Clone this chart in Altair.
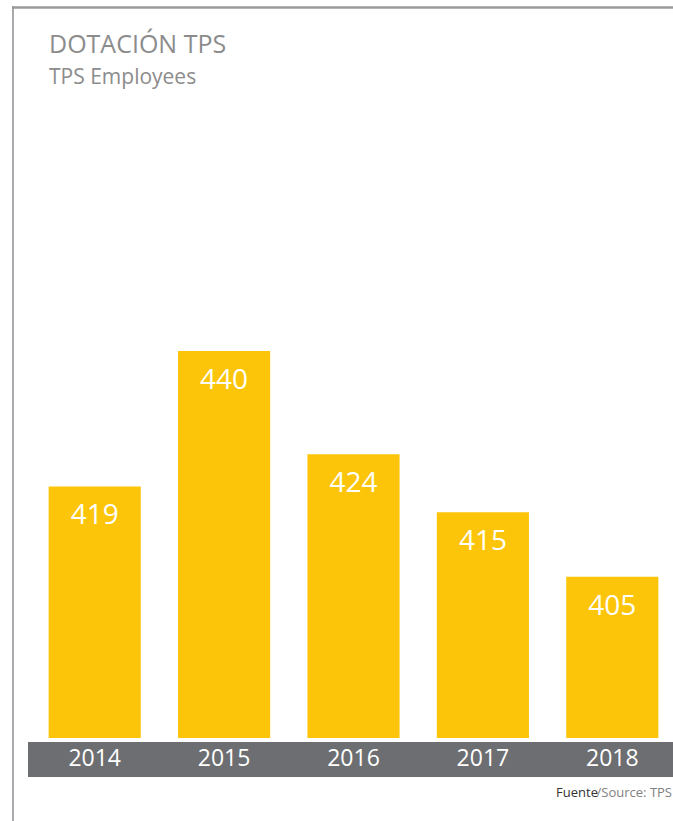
import altair as alt
import pandas as pd

years = ["2014", "2015", "2016", "2017", "2018"]
employees = [419, 440, 424, 415, 405]

title_main = "DOTACIÓN TPS"
title_sub = "TPS Employees"
source_dark = "Fuente"
source_light = "/Source: TPS"

BASE = 380

df = pd.DataFrame({"year": years, "value": employees})
one = pd.DataFrame({"k": [0]})

xscale = alt.Scale(domain=years, range=[30, 677], paddingInner=0.288, paddingOuter=0.144)
yscale = alt.Scale(domain=[BASE, 494.4], zero=False, nice=False)

base = alt.Chart(df)

bars = base.mark_bar(color="#FCC50A").encode(
    x=alt.X("year:N", scale=xscale, axis=None, sort=years),
    y=alt.Y("value:Q", scale=yscale, axis=None),
    y2=alt.datum(BASE),
)

bar_labels = base.mark_text(
    color="white", font="Open Sans", fontSize=28, baseline="middle", dy=30
).encode(
    x=alt.X("year:N", scale=xscale, axis=None, sort=years),
    y=alt.Y("value:Q", scale=yscale, axis=None),
    text=alt.Text("value:Q"),
)

band = alt.Chart(one).mark_rect(color="#6D6E71").encode(
    x=alt.value(28), x2=alt.value(673), y=alt.value(742), y2=alt.value(777)
)

year_labels = base.mark_text(
    color="white", font="Open Sans", fontSize=23, baseline="middle"
).encode(
    x=alt.X("year:N", scale=xscale, axis=None, sort=years),
    y=alt.value(759),
    text="year:N",
)

left_border = alt.Chart(one).mark_rule(color="#A9A9AE", strokeWidth=2).encode(
    x=alt.value(13), y=alt.value(6), y2=alt.value(821)
)
top_border = alt.Chart(one).mark_rule(color="#9B9B9B", strokeWidth=2.5).encode(
    x=alt.value(12), x2=alt.value(673), y=alt.value(7.5)
)

t1 = alt.Chart(one).mark_text(
    text=title_main, font="Open Sans", fontSize=25, color="#8C8C8C",
    align="left", baseline="alphabetic"
).encode(x=alt.value(49), y=alt.value(53))

t2 = alt.Chart(one).mark_text(
    text=title_sub, font="Open Sans", fontSize=21, color="#8C8C8C",
    align="left", baseline="alphabetic"
).encode(x=alt.value(49), y=alt.value(84))

s1 = alt.Chart(one).mark_text(
    text=source_light, font="Open Sans", fontSize=13,
    color="#808080", align="right", baseline="alphabetic"
).encode(x=alt.value(672), y=alt.value(797))

s2 = alt.Chart(one).mark_text(
    text=source_dark, font="Open Sans", fontSize=13,
    color="#333333", align="right", baseline="alphabetic"
).encode(x=alt.value(598), y=alt.value(797))

chart = alt.layer(
    left_border, top_border, t1, t2, bars, bar_labels, band, year_labels, s1, s2
).properties(
    width=673, height=738,
    autosize=alt.AutoSizeParams(type="none"),
    padding={"left": 0, "right": 0, "top": 0, "bottom": 83},
).configure(background="white").configure_view(stroke=None, strokeWidth=0)

chart.save("out.html", embed_options={"renderer": "svg", "actions": False})
